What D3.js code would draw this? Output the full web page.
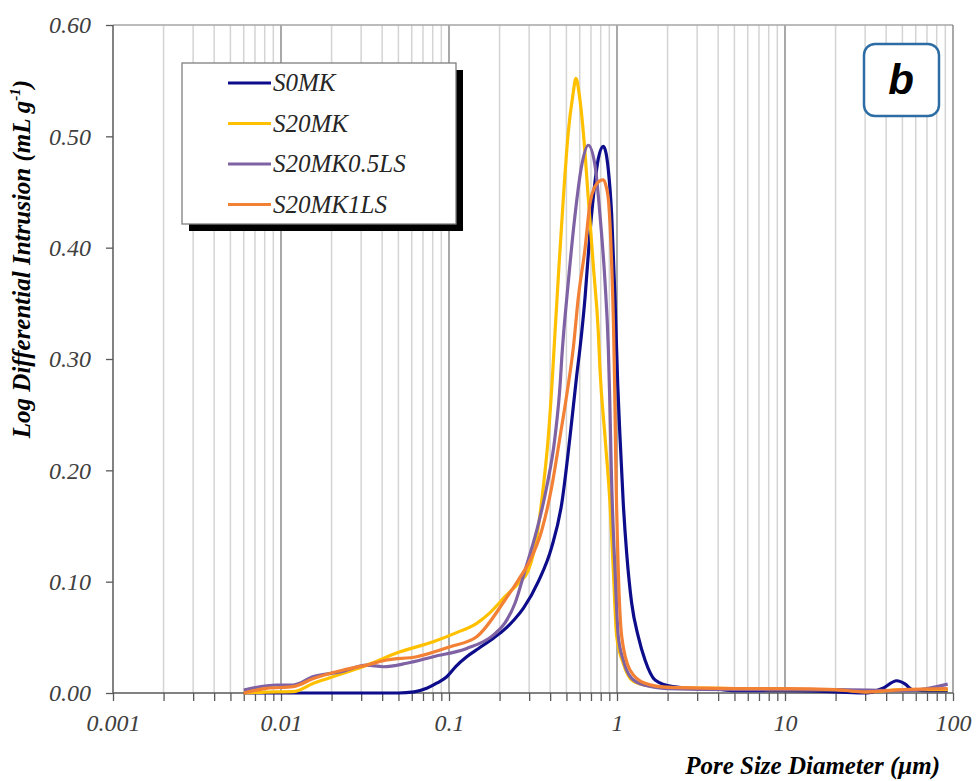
<!DOCTYPE html>
<html><head><meta charset="utf-8">
<script src="https://cdn.jsdelivr.net/npm/d3@7"></script>
<style>body{margin:0;background:#fff}svg{display:block}</style>
</head><body>
<svg id="c" width="979" height="781"></svg>
<script>
const seriesNames = ["S0MK","S20MK","S20MK0.5LS","S20MK1LS"];
const seriesColors = ["#0d0d8c","#ffc000","#7f62a4","#f28035"];
const xTickLabels = ["0.001","0.01","0.1","1","10","100"];
const yTickValues = [0,0.1,0.2,0.3,0.4,0.5,0.6];

const s0mk = [[0.006,0.000],[0.012,0.000],[0.03,0.000],[0.05,0.000],[0.062,0.001],[0.0737,0.0042],[0.085,0.009],[0.097,0.0146],[0.11,0.024],[0.1275,0.0326],[0.15,0.040],[0.175,0.047],[0.21,0.056],[0.245,0.066],[0.2769,0.076],[0.34,0.100],[0.4086,0.131],[0.4687,0.170],[0.525,0.230],[0.5755,0.285],[0.6025,0.310],[0.6451,0.355],[0.6908,0.414],[0.7396,0.459],[0.7741,0.480],[0.8291,0.491],[0.86,0.485],[0.8877,0.470],[0.930,0.429],[0.973,0.355],[1.01,0.277],[1.042,0.230],[1.09,0.170],[1.142,0.1255],[1.223,0.0806],[1.339,0.0506],[1.468,0.0296],[1.684,0.0117],[2.15,0.0057],[3.0,0.004],[3.6,0.004],[5,0.002],[10,0.002],[20,0.001],[30.6,0.000],[38,0.004],[46.2,0.011],[52,0.008],[57,0.003],[70,0.002],[93,0.002]];
const s20mk = [[0.006,0.000],[0.0094,0.001],[0.0118,0.0012],[0.0156,0.0087],[0.0235,0.0177],[0.0324,0.025],[0.0511,0.037],[0.0806,0.046],[0.11,0.054],[0.1462,0.0626],[0.175,0.072],[0.2154,0.0865],[0.2585,0.0985],[0.2965,0.110],[0.3327,0.140],[0.3642,0.185],[0.39,0.230],[0.415,0.290],[0.4276,0.324],[0.4517,0.384],[0.4791,0.444],[0.513,0.504],[0.545,0.536],[0.570,0.552],[0.598,0.536],[0.630,0.504],[0.675,0.444],[0.7226,0.384],[0.774,0.324],[0.7924,0.290],[0.8486,0.230],[0.9086,0.170],[0.9506,0.110],[0.996,0.0506],[1.09,0.0267],[1.223,0.0117],[1.468,0.007],[2,0.005],[5,0.004],[10,0.003],[20,0.003],[30,0.001],[50,0.003],[93,0.003]];
const s20mk05ls = [[0.006,0.0027],[0.0094,0.0072],[0.0118,0.0072],[0.0156,0.0147],[0.0225,0.019],[0.0324,0.025],[0.0406,0.0236],[0.056,0.0267],[0.0806,0.0326],[0.1275,0.040],[0.1835,0.052],[0.2154,0.063],[0.2471,0.0806],[0.2834,0.110],[0.3327,0.146],[0.3815,0.185],[0.4276,0.230],[0.46,0.280],[0.4687,0.300],[0.513,0.369],[0.5623,0.429],[0.6166,0.474],[0.6749,0.492],[0.7396,0.474],[0.7924,0.429],[0.8486,0.369],[0.8877,0.310],[0.905,0.265],[0.925,0.200],[0.973,0.110],[1.018,0.0506],[1.09,0.0296],[1.223,0.0132],[1.468,0.007],[2,0.004],[5,0.003],[20,0.003],[50,0.002],[70,0.004],[93,0.008]];
const s20mk1ls = [[0.006,0.000],[0.0082,0.0042],[0.0118,0.0057],[0.0156,0.013],[0.0235,0.0207],[0.0324,0.025],[0.0426,0.0296],[0.0642,0.0326],[0.1014,0.0416],[0.1462,0.0506],[0.2154,0.0835],[0.2585,0.1015],[0.3035,0.119],[0.3563,0.146],[0.4086,0.185],[0.4579,0.230],[0.507,0.272],[0.5495,0.310],[0.5883,0.355],[0.6451,0.399],[0.6908,0.440],[0.7396,0.455],[0.79,0.460],[0.8291,0.461],[0.868,0.453],[0.8877,0.444],[0.930,0.384],[0.955,0.324],[0.968,0.277],[0.985,0.200],[1.018,0.110],[1.067,0.0506],[1.195,0.0207],[1.468,0.0087],[2,0.005],[5,0.004],[10,0.004],[20,0.003],[30,0.001],[50,0.003],[93,0.004]];
const seriesData = [s0mk, s20mk, s20mk05ls, s20mk1ls];

const svg = d3.select("#c");
const L=113, R=953, T=25, B=693;
const x = d3.scaleLog().domain([0.001,100]).range([L,R]);
const y = d3.scaleLinear().domain([0,0.6]).range([B,T]);

// vertical gridlines
const decades = [0.001,0.01,0.1,1,10,100];
const allTicks = [];
decades.slice(0,5).forEach(d=>{for(let k=1;k<=9;k++) allTicks.push(+(d*k).toPrecision(3));});
allTicks.push(100);
const isMajor = v => decades.some(d=>Math.abs(v-d)/d<1e-6);
svg.append("g").selectAll("line").data(allTicks.filter(v=>v>0.001&&v<100)).join("line")
  .attr("x1",d=>x(d)).attr("x2",d=>x(d)).attr("y1",T).attr("y2",B)
  .attr("stroke",d=>isMajor(d)?"#8c8c8c":"#d4d4d4").attr("stroke-width",1.5);
// border
svg.append("line").attr("x1",L).attr("x2",R).attr("y1",T).attr("y2",T).attr("stroke","#a6a6a6").attr("stroke-width",1.3);
svg.append("line").attr("x1",R).attr("x2",R).attr("y1",T).attr("y2",B).attr("stroke","#8c8c8c").attr("stroke-width",1.5);

const fontSerif = "'Liberation Serif','Times New Roman',serif";
// axes
const xAxis = d3.axisBottom(x).tickValues(allTicks).tickSize(8)
  .tickFormat(d=>{const i=decades.findIndex(v=>Math.abs(d-v)/v<1e-6);return i>=0?xTickLabels[i]:"";});
const gx = svg.append("g").attr("transform",`translate(0,${B})`).call(xAxis);
gx.select(".domain").attr("stroke","#595959").attr("stroke-width",1.5).attr("d",`M${L},0H${R}`);
gx.selectAll(".tick line").attr("stroke","#595959").attr("stroke-width",1.3);
gx.selectAll(".tick text").attr("font-family",fontSerif).attr("font-style","italic").attr("font-size",24)
  .attr("fill","#404040").attr("y",14).attr("dy","1.0em");

const yAxis = d3.axisLeft(y).tickValues(yTickValues).tickSize(7).tickFormat(d3.format(".2f"));
const gy = svg.append("g").attr("transform",`translate(${L},0)`).call(yAxis);
gy.select(".domain").attr("stroke","#595959").attr("stroke-width",1.5).attr("d",`M0,${T}V${B}`);
gy.selectAll(".tick line").attr("stroke","#595959").attr("stroke-width",1.3);
gy.selectAll(".tick text").attr("font-family",fontSerif).attr("font-style","italic").attr("font-size",24)
  .attr("fill","#404040").attr("x",-22);

// lines
const line = d3.line().x(d=>x(d[0])).y(d=>y(d[1])).curve(d3.curveMonotoneX);
svg.append("g").selectAll("path").data(seriesData).join("path")
  .attr("d",line).attr("fill","none").attr("stroke",(d,i)=>seriesColors[i])
  .attr("stroke-width",3.2).attr("stroke-linejoin","round");

// legend
const lg = svg.append("g");
lg.append("rect").attr("x",189).attr("y",70).attr("width",274).attr("height",161).attr("fill","#000");
lg.append("rect").attr("x",182).attr("y",63).attr("width",274).attr("height",161).attr("fill","#fff").attr("stroke","#7f7f7f").attr("stroke-width",1.3);
seriesNames.forEach((n,i)=>{
  const yy = 83 + i*40.5;
  lg.append("line").attr("x1",228).attr("x2",271).attr("y1",yy).attr("y2",yy).attr("stroke",seriesColors[i]).attr("stroke-width",3);
  lg.append("text").attr("x",273).attr("y",yy+8).text(n).attr("font-family",fontSerif).attr("font-style","italic")
    .attr("font-size",25).attr("fill","#262626");
});

// panel label
svg.append("rect").attr("x",864).attr("y",44).attr("width",75).attr("height",72).attr("rx",11)
  .attr("fill","#fff").attr("stroke","#2e6da4").attr("stroke-width",2.5);
svg.append("text").attr("x",901).attr("y",94).attr("text-anchor","middle").text("b")
  .attr("font-family","'Liberation Sans',Arial,sans-serif").attr("font-weight","bold").attr("font-style","italic")
  .attr("font-size",42).attr("fill","#000");

// axis titles
svg.append("text").attr("x",940).attr("y",774).attr("text-anchor","end").text("Pore Size Diameter (μm)")
  .attr("font-family",fontSerif).attr("font-weight","bold").attr("font-style","italic").attr("font-size",25).attr("fill","#000");
const yt = svg.append("text").attr("transform","translate(30,259) rotate(-90)").attr("text-anchor","middle")
  .attr("font-family",fontSerif).attr("font-weight","bold").attr("font-style","italic").attr("font-size",25).attr("fill","#000");
yt.append("tspan").text("Log Differential Intrusion (mL g");
yt.append("tspan").text("-1").attr("font-size",15).attr("dy",-10);
yt.append("tspan").text(")").attr("dy",10);
</script>
</body></html>
